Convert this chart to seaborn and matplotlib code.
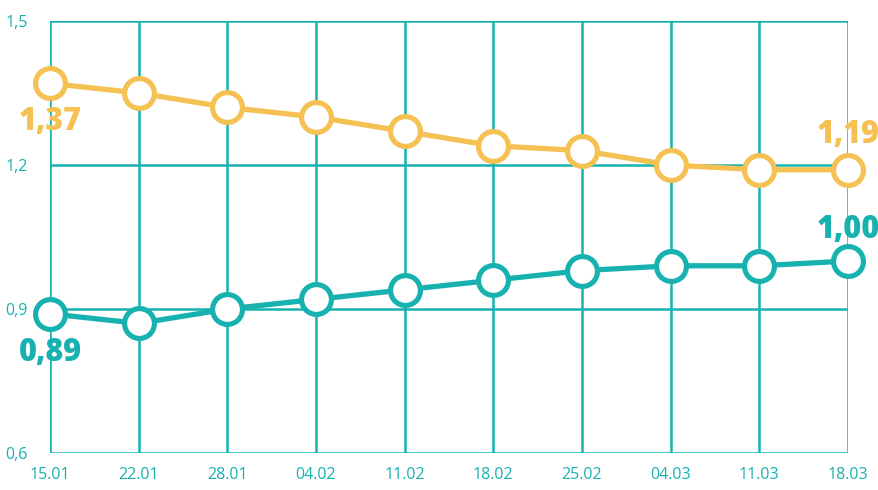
import matplotlib
matplotlib.use("Agg")
import matplotlib.pyplot as plt
import seaborn as sns
import pandas as pd

dates = ["15.01", "22.01", "28.01", "04.02", "11.02", "18.02", "25.02", "04.03", "11.03", "18.03"]
yellow_vals = [1.37, 1.35, 1.32, 1.30, 1.27, 1.24, 1.23, 1.20, 1.19, 1.19]
teal_vals = [0.89, 0.87, 0.90, 0.92, 0.94, 0.96, 0.98, 0.99, 0.99, 1.00]
y_ticks = [0.6, 0.9, 1.2, 1.5]
y_tick_labels = ["0,6", "0,9", "1,2", "1,5"]

TEAL = "#17B2B0"
YELLOW = "#F4C152"

sns.set_style("white")
plt.rcParams['font.family'] = ["Open Sans", "DejaVu Sans"]

fig = plt.figure(figsize=(8.79, 4.90), dpi=100)
ax = fig.add_axes([50/879, 1-453/490, (848-50)/879, (453-21)/490])

df = pd.DataFrame({"date": dates, "yellow": yellow_vals, "teal": teal_vals})
df["pos"] = range(len(dates))

for col, c in [("yellow", YELLOW), ("teal", TEAL)]:
    sns.lineplot(data=df, x="pos", y=col, ax=ax, color=c, linewidth=3.8,
                 marker="o", markersize=21.5, markerfacecolor="white",
                 markeredgecolor=c, markeredgewidth=3.7, clip_on=False, zorder=5)

ax.set_xlim(0, len(dates) - 1)
ax.set_ylim(0.6, 1.5)
ax.set_xticks(range(len(dates)))
ax.set_xticklabels(dates)
ax.set_yticks(y_ticks)
ax.set_yticklabels(y_tick_labels)
ax.set_xlabel("")
ax.set_ylabel("")
for s in ax.spines.values():
    s.set_visible(False)
ax.grid(True, color=TEAL, linewidth=1.8)
ax.set_axisbelow(True)
ax.tick_params(axis="x", length=7, width=1.8, color=TEAL, labelcolor=TEAL,
               labelsize=11.5, pad=3)
ax.tick_params(axis="y", length=0, labelcolor=TEAL, labelsize=11.5, pad=16)

kw = dict(textcoords="offset points", ha="center", va="center", fontsize=22,
          fontweight="heavy", annotation_clip=False)
ax.annotate("1,37", (0, yellow_vals[0]), xytext=(0, -28), color=YELLOW, **kw)
ax.annotate("0,89", (0, teal_vals[0]), xytext=(0, -28), color=TEAL, **kw)
ax.annotate("1,19", (9, yellow_vals[-1]), xytext=(0, 25), color=YELLOW, **kw)
ax.annotate("1,00", (9, teal_vals[-1]), xytext=(0, 22), color=TEAL, **kw)

fig.savefig("out.png", dpi=100)
